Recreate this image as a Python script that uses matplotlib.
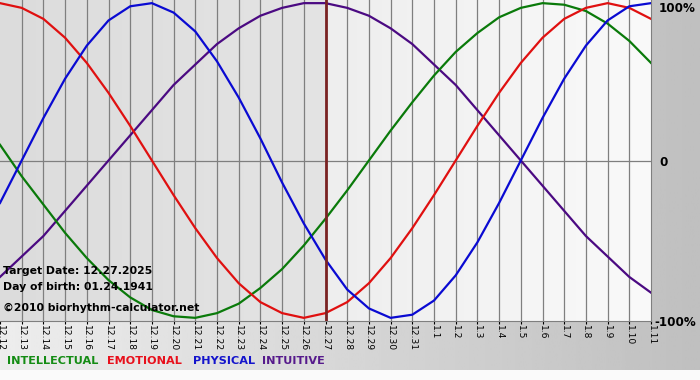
import matplotlib
matplotlib.use('Agg')
import matplotlib.pyplot as plt
import numpy as np

# day labels, 12.12 .. 1.11
days = ['12.12', '12.13', '12.14', '12.15', '12.16', '12.17', '12.18', '12.19',
        '12.20', '12.21', '12.22', '12.23', '12.24', '12.25', '12.26', '12.27',
        '12.28', '12.29', '12.30', '12.31', '1.1', '1.2', '1.3', '1.4', '1.5',
        '1.6', '1.7', '1.8', '1.9', '1.10', '1.11']

# values per day (-1 .. 1)
physical = [-0.27, 0.00, 0.27, 0.52, 0.73, 0.89, 0.98, 1.00, 0.94, 0.82, 0.63,
            0.40, 0.14, -0.14, -0.40, -0.63, -0.82, -0.94, -1.00, -0.98, -0.89,
            -0.73, -0.52, -0.27, 0.00, 0.27, 0.52, 0.73, 0.89, 0.98, 1.00]
emotional = [1.00, 0.97, 0.90, 0.78, 0.62, 0.43, 0.22, 0.00, -0.22, -0.43, -0.62,
             -0.78, -0.90, -0.97, -1.00, -0.97, -0.90, -0.78, -0.62, -0.43, -0.22,
             0.00, 0.22, 0.43, 0.62, 0.78, 0.90, 0.97, 1.00, 0.97, 0.90]
intellectual = [0.10, -0.10, -0.28, -0.46, -0.62, -0.76, -0.87, -0.95, -0.99, -1.00,
                -0.97, -0.91, -0.81, -0.69, -0.54, -0.37, -0.19, 0.00, 0.19, 0.37,
                0.54, 0.69, 0.81, 0.91, 0.97, 1.00, 0.99, 0.95, 0.87, 0.76, 0.62]
intuitive = [-0.74, -0.61, -0.48, -0.32, -0.16, 0.00, 0.16, 0.32, 0.48, 0.61, 0.74,
             0.84, 0.92, 0.97, 1.00, 1.00, 0.97, 0.92, 0.84, 0.74, 0.61, 0.48, 0.32,
             0.16, 0.00, -0.16, -0.32, -0.48, -0.61, -0.74, -0.84]

target = 15   # index of 12.27
W, H = 700, 380

fig = plt.figure(figsize=(W / 100, H / 100), dpi=100)

# grey gradient behind everything
bg = fig.add_axes([0, 0, 1, 1])
bg.axis('off')
grad = np.linspace(0.93, 0.75, 256).reshape(1, -1)
bg.imshow(grad, cmap='gray', vmin=0, vmax=1, extent=[0, 1, 0, 1], aspect='auto')
bg.add_patch(plt.Rectangle((0, 0), 1, 10 / H, color='#fafafa', lw=0))
bg.set_xlim(0, 1)
bg.set_ylim(0, 1)

ax = fig.add_axes([0, 59 / H, 651 / W, 321 / H])
x = np.arange(len(days))
ax.set_xlim(0, len(days) - 1)
ax.set_ylim(-1.02, 1.02)

# past / future shading
left = np.linspace(0.86, 0.89, 64).reshape(1, -1)
right = np.linspace(0.93, 0.975, 64).reshape(1, -1)
ax.imshow(left, cmap='gray', vmin=0, vmax=1, extent=[0, target, -1.02, 1.02], aspect='auto', zorder=0)
ax.imshow(right, cmap='gray', vmin=0, vmax=1, extent=[target, len(days) - 1, -1.02, 1.02], aspect='auto', zorder=0)

for i in x[1:-1]:
    ax.axvline(i, color='#7f7f7f', lw=0.9, zorder=1)
ax.axhline(0, color='#7f7f7f', lw=0.9, zorder=1)

ax.plot(x, intuitive, color='#4b0a82', lw=1.6, zorder=3)
ax.plot(x, intellectual, color='#0a7a0a', lw=1.6, zorder=3)
ax.plot(x, emotional, color='#e01010', lw=1.6, zorder=3)
ax.plot(x, physical, color='#0a0ad2', lw=1.6, zorder=3)
ax.axvline(target, color='#7a2323', lw=2, zorder=4)

for s in ['left', 'top']:
    ax.spines[s].set_visible(False)
ax.spines['right'].set_color('#7f7f7f')
ax.spines['bottom'].set_color('#7f7f7f')
ax.set_yticks([])
ax.set_xticks(x)
ax.set_xticklabels(days, rotation=270, fontsize=6.6)
ax.tick_params(axis='x', length=2, pad=1, colors='black')

# percent labels on the right
fig.text(659 / W, 1 - 8 / H, '100%', fontsize=8.6, weight='bold', va='center', ha='left')
fig.text(659 / W, 1 - 162 / H, '0', fontsize=8.6, weight='bold', va='center', ha='left')
fig.text(654 / W, 1 - 322 / H, '-100%', fontsize=8.6, weight='bold', va='center', ha='left')

# info text
fig.text(3 / W, 1 - 271 / H, 'Target Date: 12.27.2025', fontsize=7.8, weight='bold', va='center')
fig.text(3 / W, 1 - 287 / H, 'Day of birth: 01.24.1941', fontsize=7.8, weight='bold', va='center')
fig.text(3 / W, 1 - 308 / H, '\u00a92010 biorhythm-calculator.net', fontsize=7.8, weight='bold', va='center')

# legend
leg = [('INTELLECTUAL', '#148c14', 7), ('EMOTIONAL', '#e8101c', 107),
       ('PHYSICAL', '#1414cc', 193), ('INTUITIVE', '#561a8c', 262)]
for name, col, px in leg:
    fig.text(px / W, 1 - 361 / H, name, color=col, fontsize=8.1, weight='bold', va='center')

fig.savefig('out.png', dpi=100)
